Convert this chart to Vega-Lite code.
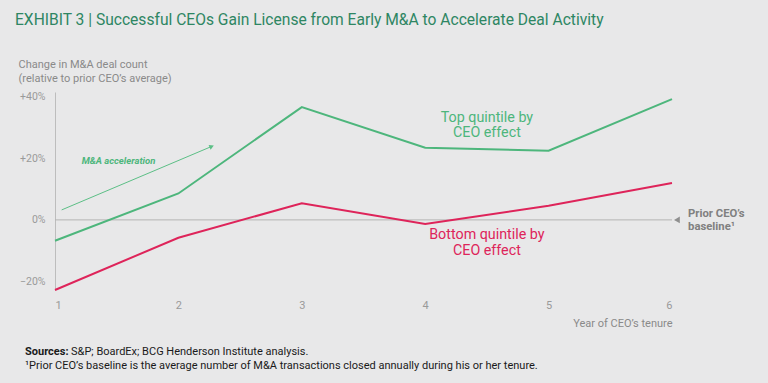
{
  "$schema": "https://vega.github.io/schema/vega-lite/v6.json",
  "autosize": "none",
  "width": 617,
  "height": 198,
  "padding": {"left": 55, "top": 92, "right": 96, "bottom": 93},
  "background": "#e8e8e9",
  "config": {
    "view": {"stroke": null},
    "font": "Roboto"
  },
  "title": {
    "text": "EXHIBIT 3 | Successful CEOs Gain License from Early M&A to Accelerate Deal Activity",
    "anchor": "start",
    "frame": "bounds",
    "font": "Roboto",
    "fontSize": 15.6,
    "fontWeight": "normal",
    "color": "#2e8663",
    "offset": 29,
    "dx": -3
  },
  "layer": [
    {
      "data": {"values": [{"x": 1, "x2": 6, "y": 0}]},
      "mark": {"type": "rule", "color": "#b4b4b4", "strokeWidth": 1},
      "encoding": {
        "x": {"field": "x", "type": "quantitative", "scale": {"domain": [1, 6], "nice": false, "zero": false},
          "axis": {"values": [1, 2, 3, 4, 5, 6], "format": "d", "domain": false, "ticks": false, "grid": false, "labelPadding": 9, "labelFontSize": 11, "labelColor": "#9a9a9a", "labelFont": "Roboto",
            "title": "Year of CEO’s tenure", "titleFont": "Roboto", "titleFontSize": 11, "titleFontWeight": "normal", "titleColor": "#8a8a8a", "titleAlign": "right", "titleAnchor": "end", "titleX": 617, "titleY": 33, "titleBaseline": "middle"}},
        "x2": {"field": "x2"},
        "y": {"field": "y", "type": "quantitative", "scale": {"domain": [-22.8, 41.6], "nice": false, "zero": false},
          "axis": {"values": [-20, 0, 20, 40], "grid": false, "ticks": false, "domain": true, "domainColor": "#bdbdbd", "domainWidth": 1,
            "labelExpr": "datum.value > 0 ? '+' + datum.value + '%' : (datum.value < 0 ? '−' + abs(datum.value) + '%' : '0%')",
            "labelPadding": 10, "labelFontSize": 10.5, "labelColor": "#9a9a9a", "labelFont": "Roboto",
            "title": ["Change in M&A deal count", "(relative to prior CEO’s average)"], "titleFont": "Roboto", "titleFontSize": 11, "titleFontWeight": "normal", "titleColor": "#8a8a8a",
            "titleAngle": 0, "titleAlign": "left", "titleBaseline": "alphabetic", "titleX": -37, "titleY": -25, "titleLineHeight": 14}}
      }
    },
    {
      "data": {"values": [
        {"year": 1, "pct": -6.8, "series": "Top quintile"},
        {"year": 2, "pct": 8.6, "series": "Top quintile"},
        {"year": 3, "pct": 36.7, "series": "Top quintile"},
        {"year": 4, "pct": 23.5, "series": "Top quintile"},
        {"year": 5, "pct": 22.5, "series": "Top quintile"},
        {"year": 6, "pct": 39.3, "series": "Top quintile"},
        {"year": 1, "pct": -22.8, "series": "Bottom quintile"},
        {"year": 2, "pct": -5.8, "series": "Bottom quintile"},
        {"year": 3, "pct": 5.4, "series": "Bottom quintile"},
        {"year": 4, "pct": -1.3, "series": "Bottom quintile"},
        {"year": 5, "pct": 4.6, "series": "Bottom quintile"},
        {"year": 6, "pct": 12.0, "series": "Bottom quintile"}
      ]},
      "mark": {"type": "line", "strokeWidth": 2},
      "encoding": {
        "x": {"field": "year", "type": "quantitative"},
        "y": {"field": "pct", "type": "quantitative"},
        "color": {"field": "series", "type": "nominal", "scale": {"domain": ["Top quintile", "Bottom quintile"], "range": ["#4db67c", "#de245a"]}, "legend": null}
      }
    },
    {
      "data": {"values": [{"x": 1.054, "y": 3.25, "x2": 2.27, "y2": 23.9}]},
      "mark": {"type": "rule", "color": "#5cbf86", "strokeWidth": 1},
      "encoding": {
        "x": {"field": "x", "type": "quantitative"},
        "y": {"field": "y", "type": "quantitative"},
        "x2": {"field": "x2"},
        "y2": {"field": "y2"}
      }
    },
    {
      "data": {"values": [{"x": 2.27, "y": 23.9}]},
      "mark": {"type": "point", "shape": "triangle-right", "filled": true, "opacity": 1, "color": "#5cbf86", "size": 28, "angle": -23},
      "encoding": {
        "x": {"field": "x", "type": "quantitative"},
        "y": {"field": "y", "type": "quantitative"}
      }
    },
    {
      "data": {"values": [{"x": 6.04, "y": 0}]},
      "mark": {"type": "point", "shape": "triangle-left", "filled": true, "opacity": 1, "color": "#8f8f8f", "size": 45},
      "encoding": {
        "x": {"field": "x", "type": "quantitative"},
        "y": {"field": "y", "type": "quantitative"}
      }
    },
    {
      "data": {"values": [
        {"x": 4.5, "y": 33.2, "t": "Top quintile by"},
        {"x": 4.5, "y": 28.3, "t": "CEO effect"}
      ]},
      "mark": {"type": "text", "font": "Roboto", "fontSize": 14.3, "color": "#4db67c", "align": "center", "baseline": "middle"},
      "encoding": {
        "x": {"field": "x", "type": "quantitative"},
        "y": {"field": "y", "type": "quantitative"},
        "text": {"field": "t"}
      }
    },
    {
      "data": {"values": [
        {"x": 4.5, "y": -4.9, "t": "Bottom quintile by"},
        {"x": 4.5, "y": -10.1, "t": "CEO effect"}
      ]},
      "mark": {"type": "text", "font": "Roboto", "fontSize": 14.3, "color": "#de245a", "align": "center", "baseline": "middle"},
      "encoding": {
        "x": {"field": "x", "type": "quantitative"},
        "y": {"field": "y", "type": "quantitative"},
        "text": {"field": "t"}
      }
    },
    {
      "data": {"values": [
        {"x": 6.13, "y": 1.95, "t": "Prior CEO’s"},
        {"x": 6.13, "y": -2.2, "t": "baseline¹"}
      ]},
      "mark": {"type": "text", "font": "Roboto", "fontSize": 11.3, "fontWeight": "bold", "color": "#808080", "align": "left", "baseline": "middle"},
      "encoding": {
        "x": {"field": "x", "type": "quantitative"},
        "y": {"field": "y", "type": "quantitative"},
        "text": {"field": "t"}
      }
    },
    {
      "data": {"values": [{"x": 1.216, "y": 19.3, "t": "M&A acceleration"}]},
      "mark": {"type": "text", "font": "Roboto", "fontSize": 9.5, "fontWeight": "bold", "fontStyle": "italic", "color": "#4db67c", "align": "left", "baseline": "middle"},
      "encoding": {
        "x": {"field": "x", "type": "quantitative"},
        "y": {"field": "y", "type": "quantitative"},
        "text": {"field": "t"}
      }
    },
    {
      "data": {"values": [{"x": 0.757, "y": -42.9, "t": "Sources:"}]},
      "mark": {"type": "text", "font": "Roboto", "fontSize": 11, "fontWeight": "bold", "color": "#1a1a1a", "align": "left", "baseline": "middle"},
      "encoding": {
        "x": {"field": "x", "type": "quantitative"},
        "y": {"field": "y", "type": "quantitative"},
        "text": {"field": "t"}
      }
    },
    {
      "data": {"values": [
        {"x": 1.13, "y": -42.9, "t": "S&P; BoardEx; BCG Henderson Institute analysis."},
        {"x": 0.757, "y": -47.6, "t": "¹Prior CEO’s baseline is the average number of M&A transactions closed annually during his or her tenure."}
      ]},
      "mark": {"type": "text", "font": "Roboto", "fontSize": 11, "color": "#1a1a1a", "align": "left", "baseline": "middle"},
      "encoding": {
        "x": {"field": "x", "type": "quantitative"},
        "y": {"field": "y", "type": "quantitative"},
        "text": {"field": "t"}
      }
    }
  ]
}
